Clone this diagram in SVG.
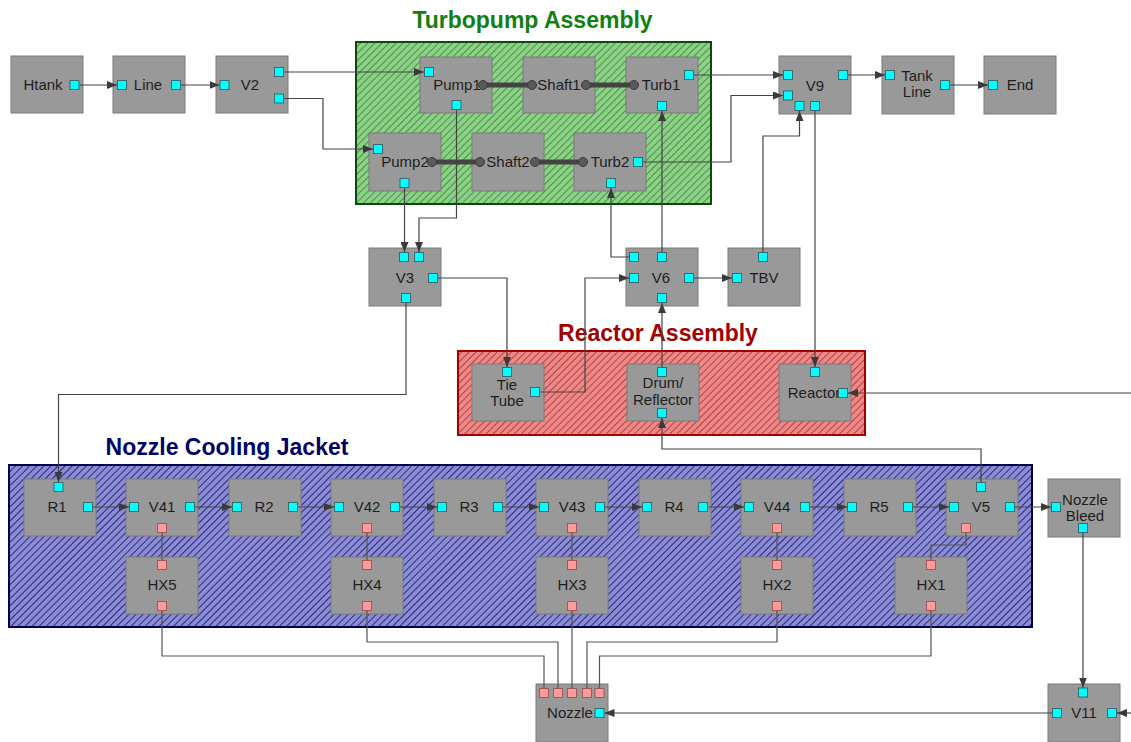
<svg xmlns="http://www.w3.org/2000/svg" width="1131" height="742" viewBox="0 0 1131 742">
  <defs>
    <pattern id="hatchGreen" width="5" height="5" patternUnits="userSpaceOnUse" patternTransform="rotate(45)">
      <rect width="5" height="5" fill="#8fcf8a"/>
      <line x1="0" y1="0" x2="0" y2="5" stroke="#3e9a3e" stroke-width="2"/>
    </pattern>
    <pattern id="hatchRed" width="5" height="5" patternUnits="userSpaceOnUse" patternTransform="rotate(45)">
      <rect width="5" height="5" fill="#e88a8a"/>
      <line x1="0" y1="0" x2="0" y2="5" stroke="#c83a3a" stroke-width="2"/>
    </pattern>
    <pattern id="hatchBlue" width="5" height="5" patternUnits="userSpaceOnUse" patternTransform="rotate(45)">
      <rect width="5" height="5" fill="#8c8cd2"/>
      <line x1="0" y1="0" x2="0" y2="5" stroke="#2a2a86" stroke-width="2"/>
    </pattern>
    <marker id="arrow" viewBox="0 0 10 8" refX="10" refY="4" markerWidth="10" markerHeight="8" markerUnits="userSpaceOnUse" orient="auto">
      <path d="M0,0 L10,4 L0,8 z" fill="#3a3a3a"/>
    </marker>
  </defs>
  <style>
    .node rect.box { fill: #999999; stroke: #7a7a7a; stroke-width: 1; }
    .port { fill: #00ffff; stroke: #2f6f6f; stroke-width: 1; }
    .hport { fill: #ff9a9a; stroke: #a05858; stroke-width: 1; }
    .label { font-family: "Liberation Sans", Arial, sans-serif; font-size: 15px; fill: #1e1e1e; text-anchor: middle; }
    .title { font-family: "Liberation Sans", Arial, sans-serif; font-size: 23px; font-weight: bold; text-anchor: middle; }
    .conn { fill: none; stroke: #444444; stroke-width: 1.2; }
    .arr { marker-end: url(#arrow); }
    .hconn { fill: none; stroke: #555555; stroke-width: 1.2; }
    .shaft { stroke: #444444; stroke-width: 5; }
    .joint { fill: #5a5a5a; stroke: #3a3a3a; stroke-width: 1; }
  </style>

  <rect width="1131" height="742" fill="#ffffff"/>

  <!-- assembly groups -->
  <g id="turbopump-assembly">
    <rect x="356" y="42" width="355" height="162" fill="url(#hatchGreen)" stroke="#0b4a0b" stroke-width="2"/>
    <text class="title" x="532.5" y="28" fill="#118011">Turbopump Assembly</text>
  </g>
  <g id="reactor-assembly">
    <rect x="458" y="351" width="407" height="84" fill="url(#hatchRed)" stroke="#a00000" stroke-width="2"/>
    <text class="title" x="658" y="341" fill="#a00000">Reactor Assembly</text>
  </g>
  <g id="nozzle-cooling-jacket">
    <rect x="9" y="465" width="1023" height="162" fill="url(#hatchBlue)" stroke="#00004a" stroke-width="2"/>
    <text class="title" x="227" y="455" fill="#000066">Nozzle Cooling Jacket</text>
  </g>

  <!-- node boxes -->
  <g id="Htank" class="node"><rect class="box" x="11" y="56" width="72" height="57"/><text class="label" x="43" y="90">Htank</text></g>
  <g id="Line" class="node"><rect class="box" x="113" y="56" width="72" height="57"/><text class="label" x="148" y="90">Line</text></g>
  <g id="V2" class="node"><rect class="box" x="216" y="56" width="72" height="57"/><text class="label" x="250" y="90">V2</text></g>
  <g id="Pump1" class="node"><rect class="box" x="420" y="57" width="72" height="56"/><text class="label" x="457" y="90">Pump1</text></g>
  <g id="Shaft1" class="node"><rect class="box" x="523" y="57" width="72" height="56"/><text class="label" x="559" y="90">Shaft1</text></g>
  <g id="Turb1" class="node"><rect class="box" x="626" y="57" width="72" height="56"/><text class="label" x="661" y="90">Turb1</text></g>
  <g id="Pump2" class="node"><rect class="box" x="369" y="133" width="72" height="58"/><text class="label" x="405" y="167">Pump2</text></g>
  <g id="Shaft2" class="node"><rect class="box" x="472" y="133" width="72" height="58"/><text class="label" x="508" y="167">Shaft2</text></g>
  <g id="Turb2" class="node"><rect class="box" x="574" y="133" width="72" height="58"/><text class="label" x="610" y="167">Turb2</text></g>
  <g id="V9" class="node"><rect class="box" x="779" y="56" width="72" height="58"/><text class="label" x="815" y="91">V9</text></g>
  <g id="TankLine" class="node"><rect class="box" x="882" y="56" width="72" height="58"/><text class="label" x="917" y="81">Tank</text><text class="label" x="917" y="97">Line</text></g>
  <g id="End" class="node"><rect class="box" x="984" y="56" width="72" height="58"/><text class="label" x="1020" y="90">End</text></g>
  <g id="V3" class="node"><rect class="box" x="369" y="248" width="72" height="58"/><text class="label" x="405" y="283">V3</text></g>
  <g id="V6" class="node"><rect class="box" x="626" y="248" width="72" height="58"/><text class="label" x="661" y="283">V6</text></g>
  <g id="TBV" class="node"><rect class="box" x="728" y="248" width="72" height="58"/><text class="label" x="764" y="283">TBV</text></g>
  <g id="TieTube" class="node"><rect class="box" x="472" y="364" width="72" height="57"/><text class="label" x="507" y="390">Tie</text><text class="label" x="507" y="406">Tube</text></g>
  <g id="DrumReflector" class="node"><rect class="box" x="627" y="364" width="72" height="57"/><text class="label" x="663" y="388">Drum/</text><text class="label" x="663" y="405">Reflector</text></g>
  <g id="Reactor" class="node"><rect class="box" x="779" y="364" width="72" height="57"/><text class="label" x="814" y="398">Reactor</text></g>
  <g id="R1" class="node"><rect class="box" x="24" y="479" width="72" height="57"/><text class="label" x="57" y="512">R1</text></g>
  <g id="V41" class="node"><rect class="box" x="126" y="479" width="72" height="57"/><text class="label" x="162" y="512">V41</text></g>
  <g id="R2" class="node"><rect class="box" x="229" y="479" width="72" height="57"/><text class="label" x="264" y="512">R2</text></g>
  <g id="V42" class="node"><rect class="box" x="331" y="479" width="72" height="57"/><text class="label" x="367" y="512">V42</text></g>
  <g id="R3" class="node"><rect class="box" x="434" y="479" width="72" height="57"/><text class="label" x="469" y="512">R3</text></g>
  <g id="V43" class="node"><rect class="box" x="536" y="479" width="72" height="57"/><text class="label" x="572" y="512">V43</text></g>
  <g id="R4" class="node"><rect class="box" x="639" y="479" width="72" height="57"/><text class="label" x="674" y="512">R4</text></g>
  <g id="V44" class="node"><rect class="box" x="741" y="479" width="72" height="57"/><text class="label" x="777" y="512">V44</text></g>
  <g id="R5" class="node"><rect class="box" x="844" y="479" width="72" height="57"/><text class="label" x="879" y="512">R5</text></g>
  <g id="V5" class="node"><rect class="box" x="946" y="479" width="72" height="57"/><text class="label" x="981" y="512">V5</text></g>
  <g id="NozzleBleed" class="node"><rect class="box" x="1048" y="479" width="72" height="58"/><text class="label" x="1085" y="505">Nozzle</text><text class="label" x="1085" y="521">Bleed</text></g>
  <g id="HX5" class="node"><rect class="box" x="126" y="557" width="72" height="57"/><text class="label" x="162" y="590">HX5</text></g>
  <g id="HX4" class="node"><rect class="box" x="331" y="557" width="72" height="57"/><text class="label" x="367" y="590">HX4</text></g>
  <g id="HX3" class="node"><rect class="box" x="536" y="557" width="72" height="57"/><text class="label" x="572" y="590">HX3</text></g>
  <g id="HX2" class="node"><rect class="box" x="741" y="557" width="72" height="57"/><text class="label" x="777" y="590">HX2</text></g>
  <g id="HX1" class="node"><rect class="box" x="895" y="557" width="72" height="57"/><text class="label" x="931" y="590">HX1</text></g>
  <g id="Nozzle" class="node"><rect class="box" x="536" y="684" width="72" height="58"/><text class="label" x="570" y="718">Nozzle</text></g>
  <g id="V11" class="node"><rect class="box" x="1048" y="684" width="72" height="58"/><text class="label" x="1084" y="718">V11</text></g>

  <!-- connectors -->
  <g id="connectors">
    <path class="conn arr" d="M80,85 H117"/>
    <path class="conn arr" d="M181,85 H219.5"/>
    <path class="conn arr" d="M284,72 H424"/>
    <path class="conn arr" d="M284,98.5 H323 V149 H373"/>
    <path class="conn arr" d="M456.5,110 V218 H419 V252"/>
    <path class="conn arr" d="M404.5,188 V252"/>
    <path class="conn arr" d="M694,75 H783"/>
    <path class="conn arr" d="M643,162 H731 V95.5 H783"/>
    <path class="conn arr" d="M848,75 H885"/>
    <path class="conn arr" d="M950,85 H988"/>
    <path class="conn arr" d="M662,252 V111"/>
    <path class="conn arr" d="M629,257 H611 V188"/>
    <path class="conn arr" d="M694,278 H732"/>
    <path class="conn arr" d="M763,252 V136 H799.5 V111"/>
    <path class="conn arr" d="M815,111 V367"/>
    <path class="conn arr" d="M438,278 H507 V367"/>
    <path class="conn arr" d="M540,392 H585 V278 H629"/>
    <path class="conn arr" d="M662,367 V303"/>
    <path class="conn arr" d="M981,482 V449 H662 V418"/>
    <path class="conn arr" d="M1131,393 H848"/>
    <path class="conn arr" d="M406,303 V394.5 H58.5 V482"/>
    <!-- cooling jacket chain -->
    <path class="conn arr" d="M93,507 H129"/>
    <path class="conn arr" d="M195,507 H232"/>
    <path class="conn arr" d="M298,507 H334"/>
    <path class="conn arr" d="M400,507 H437"/>
    <path class="conn arr" d="M503,507 H539"/>
    <path class="conn arr" d="M605,507 H642"/>
    <path class="conn arr" d="M708,507 H744"/>
    <path class="conn arr" d="M810,507 H847"/>
    <path class="conn arr" d="M913,507 H949"/>
    <path class="conn arr" d="M1015,507 H1051"/>
    <!-- heat exchanger links -->
    <path class="hconn" d="M162,533 V560"/>
    <path class="hconn" d="M367,533 V560"/>
    <path class="hconn" d="M572,533 V560"/>
    <path class="hconn" d="M777,533 V560"/>
    <path class="hconn" d="M966,533 V545 H931 V560"/>
    <path class="hconn" d="M162,611 V656 H544 V688"/>
    <path class="hconn" d="M367,611 V642 H558 V688"/>
    <path class="hconn" d="M572,611 V688"/>
    <path class="hconn" d="M777,611 V642 H587 V688"/>
    <path class="hconn" d="M931,611 V656 H599.5 V688"/>
    <path class="conn arr" d="M1083,533 V687.5"/>
    <path class="conn arr" d="M1052,713 H604.5"/>
    <path class="conn arr" d="M1131,713 H1117"/>
    <!-- shaft couplings -->
    <line class="shaft" x1="483" y1="85" x2="532" y2="85"/>
    <line class="shaft" x1="586" y1="85" x2="634" y2="85"/>
    <line class="shaft" x1="432" y1="162" x2="480" y2="162"/>
    <line class="shaft" x1="535" y1="162" x2="583" y2="162"/>
    <circle class="joint" cx="483" cy="85" r="4.5"/>
    <circle class="joint" cx="532" cy="85" r="4.5"/>
    <circle class="joint" cx="586" cy="85" r="4.5"/>
    <circle class="joint" cx="634" cy="85" r="4.5"/>
    <circle class="joint" cx="432" cy="162" r="4.5"/>
    <circle class="joint" cx="480" cy="162" r="4.5"/>
    <circle class="joint" cx="535" cy="162" r="4.5"/>
    <circle class="joint" cx="583" cy="162" r="4.5"/>
  </g>

  <!-- ports -->
  <g id="ports">
    <rect class="port" x="70" y="80.5" width="9" height="9"/>
    <rect class="port" x="117.5" y="80.5" width="9" height="9"/>
    <rect class="port" x="171.5" y="80.5" width="9" height="9"/>
    <rect class="port" x="220" y="80.5" width="9" height="9"/>
    <rect class="port" x="274.5" y="67.5" width="9" height="9"/>
    <rect class="port" x="274.5" y="94" width="9" height="9"/>
    <rect class="port" x="424.5" y="67.5" width="9" height="9"/>
    <rect class="port" x="452" y="100.5" width="9" height="9"/>
    <rect class="port" x="684.5" y="70.5" width="9" height="9"/>
    <rect class="port" x="657.5" y="101.5" width="9" height="9"/>
    <rect class="port" x="373.5" y="144.5" width="9" height="9"/>
    <rect class="port" x="400" y="178.5" width="9" height="9"/>
    <rect class="port" x="633.5" y="157.5" width="9" height="9"/>
    <rect class="port" x="606.5" y="178.5" width="9" height="9"/>
    <rect class="port" x="783.5" y="70.5" width="9" height="9"/>
    <rect class="port" x="783.5" y="91" width="9" height="9"/>
    <rect class="port" x="795" y="101.5" width="9" height="9"/>
    <rect class="port" x="810.5" y="101.5" width="9" height="9"/>
    <rect class="port" x="838.5" y="70.5" width="9" height="9"/>
    <rect class="port" x="885.5" y="70.5" width="9" height="9"/>
    <rect class="port" x="940.5" y="80.5" width="9" height="9"/>
    <rect class="port" x="988.5" y="80.5" width="9" height="9"/>
    <rect class="port" x="399.5" y="252.5" width="9" height="9"/>
    <rect class="port" x="414.5" y="252.5" width="9" height="9"/>
    <rect class="port" x="428.5" y="273.5" width="9" height="9"/>
    <rect class="port" x="401.5" y="293.5" width="9" height="9"/>
    <rect class="port" x="629.5" y="252.5" width="9" height="9"/>
    <rect class="port" x="657.5" y="252.5" width="9" height="9"/>
    <rect class="port" x="629.5" y="273.5" width="9" height="9"/>
    <rect class="port" x="684.5" y="273.5" width="9" height="9"/>
    <rect class="port" x="657.5" y="293.5" width="9" height="9"/>
    <rect class="port" x="732.5" y="273.5" width="9" height="9"/>
    <rect class="port" x="758.5" y="252.5" width="9" height="9"/>
    <rect class="port" x="502.5" y="367.5" width="9" height="9"/>
    <rect class="port" x="530.5" y="387.5" width="9" height="9"/>
    <rect class="port" x="657.5" y="367.5" width="9" height="9"/>
    <rect class="port" x="657.5" y="408.5" width="9" height="9"/>
    <rect class="port" x="810.5" y="367.5" width="9" height="9"/>
    <rect class="port" x="838.5" y="388.5" width="9" height="9"/>
    <!-- jacket row -->
    <rect class="port" x="54" y="482.5" width="9" height="9"/>
    <rect class="port" x="83.5" y="502.5" width="9" height="9"/>
    <rect class="port" x="129.5" y="502.5" width="9" height="9"/>
    <rect class="port" x="185.5" y="502.5" width="9" height="9"/>
    <rect class="port" x="232.5" y="502.5" width="9" height="9"/>
    <rect class="port" x="288.5" y="502.5" width="9" height="9"/>
    <rect class="port" x="334.5" y="502.5" width="9" height="9"/>
    <rect class="port" x="390.5" y="502.5" width="9" height="9"/>
    <rect class="port" x="437.5" y="502.5" width="9" height="9"/>
    <rect class="port" x="493.5" y="502.5" width="9" height="9"/>
    <rect class="port" x="539.5" y="502.5" width="9" height="9"/>
    <rect class="port" x="595.5" y="502.5" width="9" height="9"/>
    <rect class="port" x="642.5" y="502.5" width="9" height="9"/>
    <rect class="port" x="698.5" y="502.5" width="9" height="9"/>
    <rect class="port" x="744.5" y="502.5" width="9" height="9"/>
    <rect class="port" x="800.5" y="502.5" width="9" height="9"/>
    <rect class="port" x="847.5" y="502.5" width="9" height="9"/>
    <rect class="port" x="903.5" y="502.5" width="9" height="9"/>
    <rect class="port" x="949.5" y="502.5" width="9" height="9"/>
    <rect class="port" x="1005.5" y="502.5" width="9" height="9"/>
    <rect class="port" x="976.5" y="482.5" width="9" height="9"/>
    <rect class="port" x="1051.5" y="502.5" width="9" height="9"/>
    <rect class="port" x="1078.5" y="523.5" width="9" height="9"/>
    <rect class="hport" x="157.5" y="523.5" width="9" height="9"/>
    <rect class="hport" x="362.5" y="523.5" width="9" height="9"/>
    <rect class="hport" x="567.5" y="523.5" width="9" height="9"/>
    <rect class="hport" x="772.5" y="523.5" width="9" height="9"/>
    <rect class="hport" x="961.5" y="523.5" width="9" height="9"/>
    <!-- heat exchanger ports -->
    <rect class="hport" x="157.5" y="560.5" width="9" height="9"/>
    <rect class="hport" x="157.5" y="601.5" width="9" height="9"/>
    <rect class="hport" x="362.5" y="560.5" width="9" height="9"/>
    <rect class="hport" x="362.5" y="601.5" width="9" height="9"/>
    <rect class="hport" x="567.5" y="560.5" width="9" height="9"/>
    <rect class="hport" x="567.5" y="601.5" width="9" height="9"/>
    <rect class="hport" x="772.5" y="560.5" width="9" height="9"/>
    <rect class="hport" x="772.5" y="601.5" width="9" height="9"/>
    <rect class="hport" x="926.5" y="560.5" width="9" height="9"/>
    <rect class="hport" x="926.5" y="601.5" width="9" height="9"/>
    <!-- nozzle and V11 -->
    <rect class="hport" x="539.5" y="688.5" width="9" height="9"/>
    <rect class="hport" x="553.5" y="688.5" width="9" height="9"/>
    <rect class="hport" x="567.5" y="688.5" width="9" height="9"/>
    <rect class="hport" x="582.5" y="688.5" width="9" height="9"/>
    <rect class="hport" x="595" y="688.5" width="9" height="9"/>
    <rect class="port" x="595" y="708.5" width="9" height="9"/>
    <rect class="port" x="1078.5" y="688" width="9" height="9"/>
    <rect class="port" x="1052.5" y="708.5" width="9" height="9"/>
    <rect class="port" x="1107.5" y="708.5" width="9" height="9"/>
  </g>
</svg>
